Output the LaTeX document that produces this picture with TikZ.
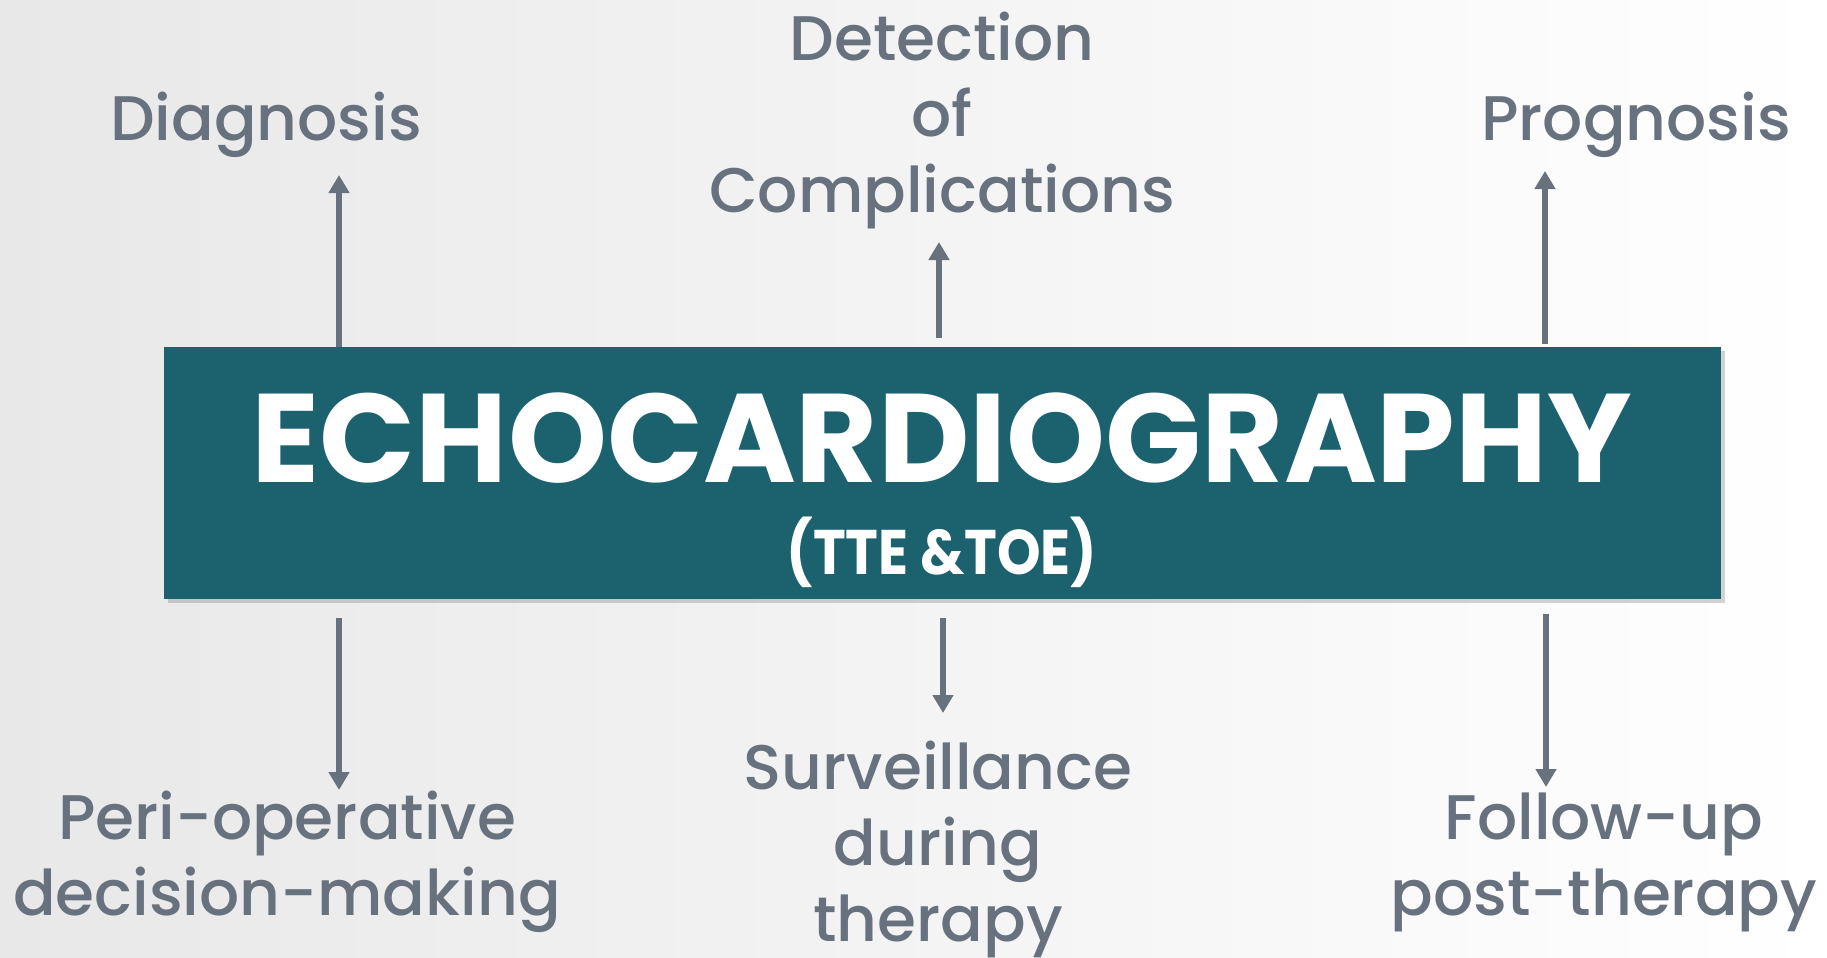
\documentclass[tikz,border=0pt]{standalone}
\usepackage{fontspec}
\setmainfont{Poppins}
\newfontfamily\medfont{Poppins Medium}
\usepackage{tikz}
\usepackage{xcolor}
\usetikzlibrary{arrows.meta,shadows,positioning}
\definecolor{echoteal}{HTML}{1B616E}
\definecolor{itemgray}{HTML}{67727E}
\definecolor{bgleft}{HTML}{E8E8E8}
\begin{document}
\begin{tikzpicture}[x=0.5pt,y=-0.5pt]
        \tikzstyle{item}=[text=itemgray, font=\medfont\fontsize{31.5}{38}\selectfont, align=center, anchor=base, inner sep=0pt]
        \tikzstyle{connect}=[-{Triangle[width=10pt,length=9pt]}, line width=2.8pt, draw=itemgray]
        \shade[left color=bgleft, right color=white] (0,0) rectangle (1827,958);
        \useasboundingbox (0,0) rectangle (1827,958);
        % central box
        \node[fill=echoteal, minimum width=778.5pt, minimum height=126pt, inner sep=0pt,
              drop shadow={shadow xshift=2pt, shadow yshift=-2pt, opacity=0.35}] (echo) at (942.5,473) {};
        \node[text=white, anchor=base, font=\bfseries\fontsize{63}{70}\selectfont] (title) at (942,482) {ECHOCARDIOGRAPHY};
        \node[text=white, anchor=base, font=\bfseries\fontsize{31.5}{34}\selectfont] (sub) at (942,574) {\scalebox{0.88}[1]{(TTE \&TOE)}};
        % outcomes (base = last line)
        \node[item] (diag) at (266,140) {Diagnosis};
        \node[item] (detect) at (942,212) {Detection\\of\\Complications};
        \node[item] (progn) at (1636,140) {Prognosis};
        \node[item] (peri) at (287,915) {Peri-operative\\decision-making};
        \node[item] (surv) at (938,941) {Surveillance\\during\\therapy};
        \node[item] (follow) at (1604,915) {Follow-up\\post-therapy};
        \coordinate (diagtip) at (339,175);
        \coordinate (detecttip) at (939,242);
        \coordinate (progntip) at (1545,171);
        \coordinate (peritip) at (339,790);
        \coordinate (survtip) at (943,713);
        \coordinate (followtip) at (1546,787);
        \path (echo.north -| diagtip) edge [connect] (diagtip)
        (echo.north -| detecttip) edge [connect, shorten <=4.5pt] (detecttip)
        (echo.north -| progntip) edge [connect, shorten <=1.5pt] (progntip)
        (echo.south -| peritip) edge [connect, shorten <=9.5pt] (peritip)
        (echo.south -| survtip) edge [connect, shorten <=9.5pt] (survtip)
        (echo.south -| followtip) edge [connect, shorten <=7.5pt] (followtip);
      \end{tikzpicture}
\end{document}
